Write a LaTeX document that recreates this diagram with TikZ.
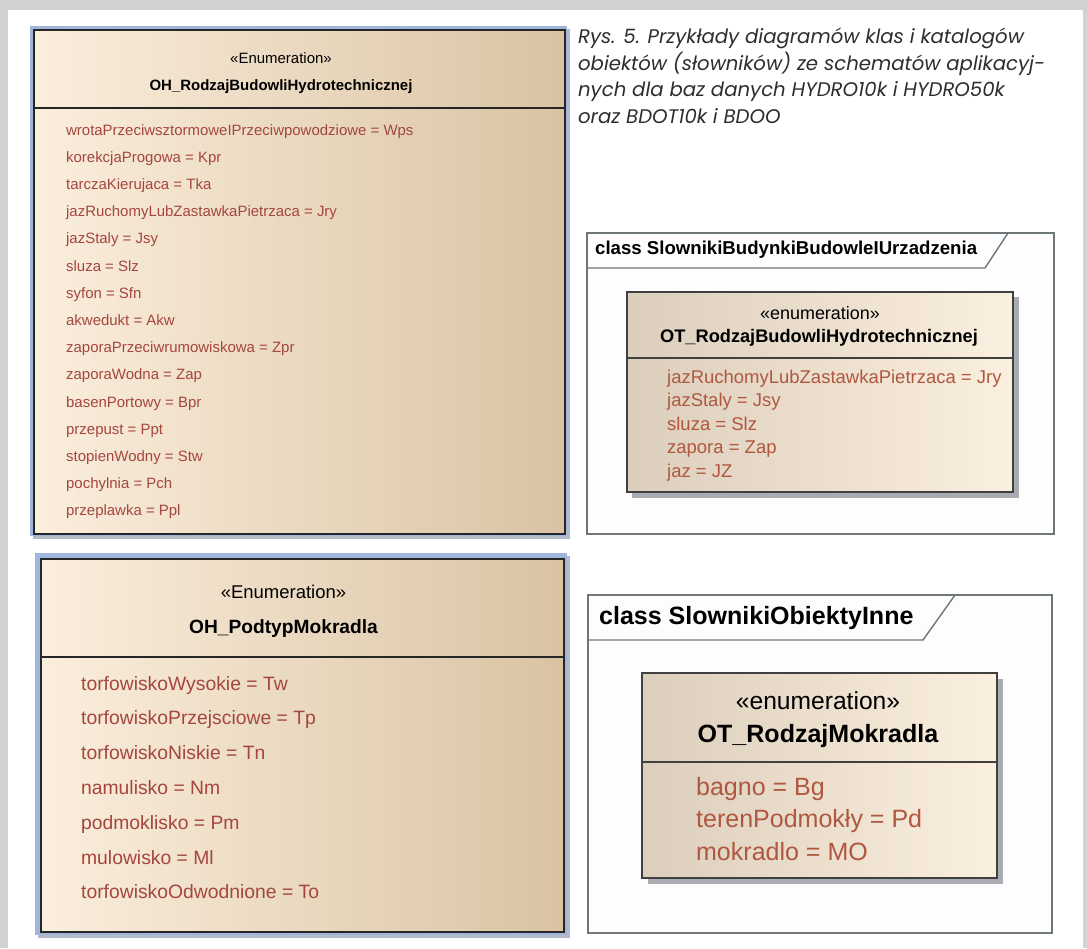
\documentclass[tikz,border=0pt]{standalone}
\usepackage{fontspec}
\setmainfont{Liberation Sans}
\newfontfamily\capfont{Poppins}
\usetikzlibrary{positioning}
\definecolor{pagegray}{HTML}{D2D2D2}
\definecolor{halo}{HTML}{9FB5DC}
\definecolor{haloshadow}{HTML}{B3BCC8}
\definecolor{creamL}{HTML}{FBEEDD}
\definecolor{creamM}{HTML}{F3E2CC}
\definecolor{tanR}{HTML}{D9C3A3}
\definecolor{innerL}{HTML}{DCCEBC}
\definecolor{innerR}{HTML}{FBEFDF}
\definecolor{attrred}{HTML}{A5463F}
\definecolor{attrbrn}{HTML}{B0573F}
\definecolor{framegray}{HTML}{6E767A}
\definecolor{framefill}{HTML}{FDFDFE}
\definecolor{shadowgray}{HTML}{A9ADB2}
\definecolor{captext}{HTML}{2E2E2E}

\begin{document}
\begin{tikzpicture}[x=0.5mm, y=-0.5mm,
  outerbox/.style={left color=creamL, middle color=creamM, right color=tanR},
  innerbox/.style={left color=innerL, right color=innerR},
  boxline/.style={draw=black!85, line width=1mm},
  innerline/.style={draw=black!75, line width=0.8mm},
  frameline/.style={draw=framegray, line width=0.7mm},
  stereo/.style={font=\fontsize{#1}{#1}\selectfont, anchor=base, inner sep=0pt},
  cname/.style={font=\fontsize{#1}{#1}\selectfont\bfseries, anchor=base, inner sep=0pt},
  attr/.style={font=\fontsize{#1}{#1}\selectfont, text=attrred, anchor=base west, inner sep=0pt},
  attrb/.style={font=\fontsize{#1}{#1}\selectfont, text=attrbrn, anchor=base west, inner sep=0pt},
  ftitle/.style={font=\fontsize{#1}{#1}\selectfont\bfseries, anchor=base west, inner sep=0pt},
  caption/.style={font=\capfont\itshape\fontsize{28}{28}\selectfont, text=captext, anchor=base west, inner sep=0pt},
]

% Background page
\fill[pagegray] (0,0) rectangle (1087,948);
\fill[white] (8,10) rectangle (1083,948);

% ===== OH_RodzajBudowliHydrotechnicznej =====
\fill[haloshadow] (33,29) rectangle (570,539);
\fill[halo] (30,26) rectangle (567,536);
\shade[outerbox] (34,30) rectangle (565,534);
\draw[boxline] (34,30) rectangle (565,534);
\draw[boxline] (34,108) -- (565,108);
\node[stereo=21.3] (ohrstereo) at (281,63.5) {«Enumeration»};
\node[cname=21.3] (ohrname) at (281,90.5) {OH\_RodzajBudowliHydrotechnicznej};
\foreach \t [count=\i from 0] in {wrotaPrzeciwsztormoweIPrzeciwpowodziowe = Wps,
    korekcjaProgowa = Kpr, tarczaKierujaca = Tka,
    jazRuchomyLubZastawkaPietrzaca = Jry, jazStaly = Jsy, sluza = Slz,
    syfon = Sfn, akwedukt = Akw, zaporaPrzeciwrumowiskowa = Zpr,
    zaporaWodna = Zap, basenPortowy = Bpr, przepust = Ppt,
    stopienWodny = Stw, pochylnia = Pch, przeplawka = Ppl}
  \node[attr=21.3] (ohr-\i) at (66,135+27.2*\i) {\t};

% ===== OH_PodtypMokradla =====
\fill[haloshadow] (38,556) rectangle (570,938);
\fill[halo] (35,553) rectangle (567,935);
\shade[outerbox] (41,559) rectangle (564,932);
\draw[boxline] (41,559) rectangle (564,932);
\draw[boxline] (41,657) -- (564,657);
\node[stereo=26.3] (ohpstereo) at (283.5,598.5) {«Enumeration»};
\node[cname=27.3] (ohpname) at (283.5,633) {OH\_PodtypMokradla};
\foreach \t [count=\i from 0] in {torfowiskoWysokie = Tw,
    torfowiskoPrzejsciowe = Tp, torfowiskoNiskie = Tn, namulisko = Nm,
    podmoklisko = Pm, mulowisko = Ml, torfowiskoOdwodnione = To}
  \node[attr=27.5] (ohp-\i) at (81,690+34.8*\i) {\t};

% ===== class SlownikiBudynkiBudowleIUrzadzenia =====
\fill[framefill] (587,233) rectangle (1054,534);
\draw[frameline] (587,233) rectangle (1054,534);
\draw[frameline] (587,268) -- (985,268) -- (1008,233);
\node[ftitle=26.5] (frbud) at (595,254.5) {class SlownikiBudynkiBudowleIUrzadzenia};
\fill[shadowgray] (632,297) rectangle (1019,498);
\shade[innerbox] (627,292) rectangle (1013,492);
\draw[innerline] (627,292) rectangle (1013,492);
\draw[innerline] (627,358) -- (1013,358);
\node[stereo=25.5] (otrstereo) at (820,319) {«enumeration»};
\node[cname=25.9] (otrname) at (819,342.5) {OT\_RodzajBudowliHydrotechnicznej};
\foreach \t [count=\i from 0] in {jazRuchomyLubZastawkaPietrzaca = Jry,
    jazStaly = Jsy, sluza = Slz, zapora = Zap, jaz = JZ}
  \node[attrb=26.3] (otr-\i) at (667,383+23.6*\i) {\t};

% ===== class SlownikiObiektyInne =====
\fill[framefill] (588,595) rectangle (1052,933);
\draw[frameline] (588,595) rectangle (1052,933);
\draw[frameline] (588,640) -- (923,640) -- (955,595);
\node[ftitle=35.6] (frinne) at (599,624) {class SlownikiObiektyInne};
\fill[shadowgray] (648,679) rectangle (1003,884);
\shade[innerbox] (642,673) rectangle (997,878);
\draw[innerline] (642,673) rectangle (997,878);
\draw[innerline] (642,762) -- (997,762);
\node[stereo=35] (otmstereo) at (818,709) {«enumeration»};
\node[cname=35.6] (otmname) at (818,742) {OT\_RodzajMokradla};
\foreach \t [count=\i from 0] in {bagno = Bg, terenPodmokły = Pd, mokradlo = MO}
  \node[attrb=35.6] (otm-\i) at (696,795+32.5*\i) {\t};

% ===== Caption =====
\foreach \t [count=\i from 0] in {Rys. 5. Przykłady diagramów klas i katalogów,
    obiektów (słowników) ze schematów aplikacyj-,
    nych dla baz danych HYDRO10k i HYDRO50k,
    oraz BDOT10k i BDOO}
  \node[caption] (cap-\i) at (578,43.5+26.5*\i) {\t};

\end{tikzpicture}
\end{document}
